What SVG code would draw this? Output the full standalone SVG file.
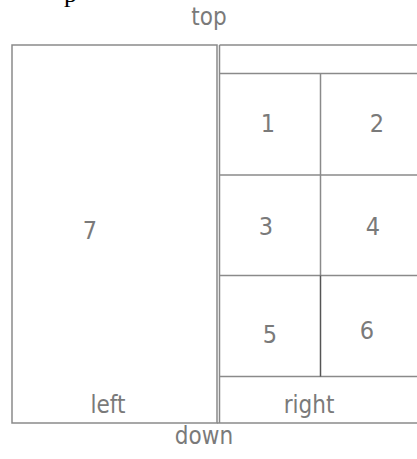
<svg xmlns="http://www.w3.org/2000/svg" width="417" height="459" viewBox="0 0 417 459">
<style>
.ln{stroke:#8a8a8a;stroke-width:1.5;fill:none}
.dk{stroke:#555;stroke-width:1.5;fill:none}
.t{font-family:"DejaVu Sans Condensed","DejaVu Sans",sans-serif;fill:#7a7a7a;text-anchor:middle}
.lbl{font-size:24px}
.num{font-size:25px}
</style>
<rect width="417" height="459" fill="#fff"/>
<text x="64" y="2" font-family="Liberation Serif,serif" font-size="26" fill="#000">p</text>
<text class="t lbl" x="209" y="25">top</text>
<text class="t lbl" x="204" y="444">down</text>
<g id="left">
<path class="ln" d="M12 45 H217 V423 H12 Z"/>
<text class="t num" x="90" y="239">7</text>
<text class="t lbl" x="108" y="413">left</text>
</g>
<g id="right">
<path class="ln" d="M219.5 45 H420 M219.5 45 V423 M217 423 H420"/>
<text class="t lbl" x="309" y="413">right</text>
</g>
<g id="grid">
<path class="ln" d="M220 73.5 H420 M220 175 H420 M220 275.5 H420 M220 376.5 H420 M320.5 73.5 V275.5"/>
<path class="dk" d="M320.5 275.5 V376.5"/>
</g>
<g id="n1"><text class="t num" x="268" y="132">1</text></g>
<g id="n2"><text class="t num" x="377" y="132">2</text></g>
<g id="n3"><text class="t num" x="266" y="235">3</text></g>
<g id="n4"><text class="t num" x="373" y="235">4</text></g>
<g id="n5"><text class="t num" x="270" y="343">5</text></g>
<g id="n6"><text class="t num" x="367" y="339">6</text></g>
</svg>
